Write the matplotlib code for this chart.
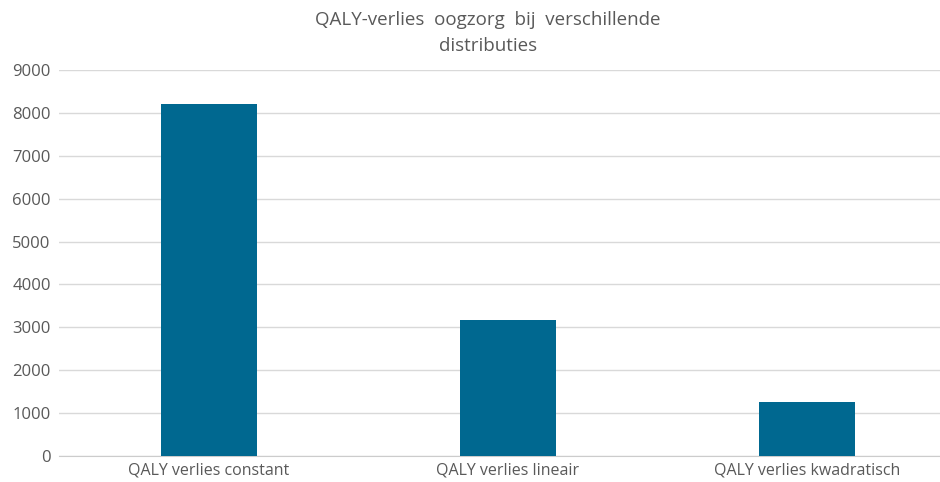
import numpy as np
import matplotlib.pyplot as plt

plt.rcParams['font.family'] = ['Open Sans', 'DejaVu Sans']

# data
categories = ['QALY verlies constant', 'QALY verlies lineair', 'QALY verlies kwadratisch']
qaly_loss = [8200, 3180, 1250]
yticks = [0, 1000, 2000, 3000, 4000, 5000, 6000, 7000, 8000, 9000]

bar_color = '#006890'
text_color = '#595959'

fig = plt.figure(figsize=(9.4, 4.82), dpi=100)
ax = fig.add_axes([59/940, 1 - 456/482, (957 - 59)/940, (456 - 70)/482])

x = np.arange(len(categories))
ax.bar(x, qaly_loss, width=0.32, color=bar_color, zorder=3)

ax.set_xlim(-0.5, 2.5)
ax.set_ylim(0, 9000)
ax.set_yticks(yticks)
ax.set_yticklabels([str(t) for t in yticks])
ax.set_xticks(x)
ax.set_xticklabels(categories)

ax.grid(axis='y', color='#d9d9d9', linewidth=1, zorder=0)
for s in ['top', 'right', 'left']:
    ax.spines[s].set_visible(False)
ax.spines['bottom'].set_color('#cccccc')
ax.tick_params(axis='both', length=0, colors=text_color)
ax.tick_params(axis='y', pad=6, labelsize=12)
ax.tick_params(axis='x', pad=5, labelsize=11.5)

fig.text(488/940, 1 - 33/482, 'QALY-verlies  oogzorg  bij  verschillende\ndistributies',
         ha='center', va='center', fontsize=13.5, color=text_color, linespacing=1.6)

fig.savefig('out.png', dpi=100)
